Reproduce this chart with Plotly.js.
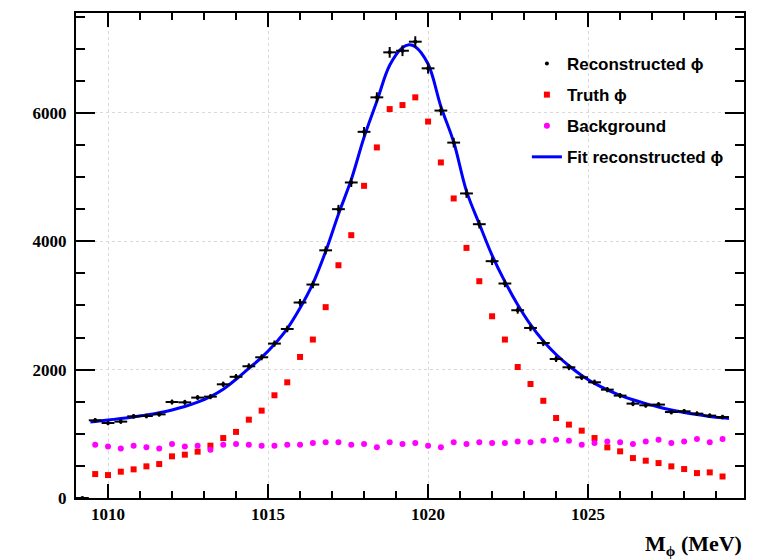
<!DOCTYPE html>
<html>
<head>
<meta charset="utf-8">
<script src="https://cdn.plot.ly/plotly-3.0.1.min.js"></script>
<style>html,body{margin:0;padding:0;background:#fff;}#chart{width:763px;height:560px;}</style>
</head>
<body>
<div id="chart"></div>
<script>
// Bin centres (MeV), 0.4 MeV bins
const massBins = [1009.6,1010.0,1010.4,1010.8,1011.2,1011.6,1012.0,1012.4,1012.8,1013.2,
  1013.6,1014.0,1014.4,1014.8,1015.2,1015.6,1016.0,1016.4,1016.8,1017.2,
  1017.6,1018.0,1018.4,1018.8,1019.2,1019.6,1020.0,1020.4,1020.8,1021.2,
  1021.6,1022.0,1022.4,1022.8,1023.2,1023.6,1024.0,1024.4,1024.8,1025.2,
  1025.6,1026.0,1026.4,1026.8,1027.2,1027.6,1028.0,1028.4,1028.8,1029.2];

// Empty bin at the low edge
const emptyBinX = [1009.2];
const emptyBinY = [0];

const reconstructed = [1210,1168,1190,1272,1277,1303,1495,1490,1564,1579,
  1771,1888,2052,2192,2405,2633,3045,3325,3858,4499,
  4915,5704,6241,6942,6967,7108,6693,6035,5536,4744,
  4265,3689,3341,2925,2649,2415,2165,2036,1880,1802,
  1688,1595,1470,1444,1455,1339,1350,1314,1283,1261];

const truth = [373,357,410,446,493,529,649,675,722,815,
  934,1030,1220,1361,1600,1802,2197,2468,2973,3626,
  4094,4863,5461,6058,6121,6241,5864,5227,4666,3896,
  3377,2831,2468,2041,1776,1514,1246,1143,1049,934,
  789,727,622,581,544,493,451,388,399,335];

const background = [831,804,773,815,789,773,840,804,815,753,
  831,840,831,815,815,831,831,856,867,867,
  831,840,789,867,840,856,815,789,867,840,
  867,856,856,882,867,893,909,893,831,856,
  882,867,840,882,909,856,882,918,867,918];

// Fit curve
const fitX = [1009.45,1009.6,1010.0,1010.4,1010.8,1011.2,1011.6,1012.0,1012.4,1012.8,1013.2,
  1013.6,1014.0,1014.4,1014.8,1015.2,1015.6,1016.0,1016.4,1016.8,1017.2,
  1017.6,1018.0,1018.4,1018.8,1019.2,1019.4,1019.6,1020.0,1020.4,1020.8,1021.2,
  1021.6,1022.0,1022.4,1022.8,1023.2,1023.6,1024.0,1024.4,1024.8,1025.2,
  1025.6,1026.0,1026.4,1026.8,1027.2,1027.6,1028.0,1028.4,1028.8,1029.2,1029.4];
const fitY = [1185,1193,1215,1238,1263,1292,1328,1372,1425,1492,1580,
  1695,1850,2020,2190,2395,2640,2960,3340,3840,4420,
  4960,5620,6180,6740,7015,7060,7030,6760,6100,5545,4780,
  4270,3780,3370,3010,2700,2445,2235,2060,1910,1785,
  1685,1600,1530,1470,1417,1372,1333,1300,1270,1248,1240];

const legendNames = ['Reconstructed \u03d5', 'Truth \u03d5', 'Background', 'Fit reconstructed \u03d5'];

const serif = 'Liberation Serif, Times New Roman, serif';
const sans = 'Liberation Sans, Arial, Helvetica, sans-serif';

const traces = [
  {
    x: fitX, y: fitY, type: 'scatter', mode: 'lines',
    name: legendNames[3], legendrank: 4, legendgroup: 'd',
    line: {color: '#0000ff', width: 3, shape: 'spline', smoothing: 1}
  },
  {
    x: massBins, y: truth, type: 'scatter', mode: 'markers',
    name: legendNames[1], legendrank: 2, legendgroup: 'b',
    marker: {color: '#ff0000', symbol: 'square', size: 6}
  },
  {
    x: massBins, y: background, type: 'scatter', mode: 'markers',
    name: legendNames[2], legendrank: 3, legendgroup: 'c',
    marker: {color: '#ff00ff', symbol: 'circle', size: 6}
  },
  {
    x: emptyBinX.concat(massBins), y: emptyBinY.concat(reconstructed), type: 'scatter', mode: 'markers',
    name: legendNames[0], legendrank: 1, legendgroup: 'a', cliponaxis: false,
    marker: {color: '#000000', size: 4},
    error_x: {type: 'constant', value: 0.2, thickness: 2, width: 0, color: '#000000'},
    error_y: {type: 'sqrt', thickness: 2, width: 0, color: '#000000'}
  }
];

const layout = {
  width: 763, height: 560,
  margin: {l: 76, r: 19, t: 13, b: 62},
  paper_bgcolor: '#ffffff', plot_bgcolor: '#ffffff',
  showlegend: true,
  legend: {
    x: 0.675, y: 0.932, xanchor: 'left', yanchor: 'top',
    bgcolor: 'rgba(255,255,255,0)', borderwidth: 0,
    traceorder: 'grouped', tracegroupgap: 6,
    font: {family: sans, size: 17, color: '#000000', weight: 'bold'}
  },
  xaxis: {
    range: [1009.0, 1029.87],
    tick0: 1010, dtick: 5,
    ticks: 'inside', ticklen: 14, tickwidth: 2, tickcolor: '#000000',
    showline: true, linewidth: 2, linecolor: '#000000', mirror: 'allticks',
    showgrid: true, gridcolor: '#d9d9d9', griddash: 'dot', gridwidth: 1,
    zeroline: false,
    tickfont: {family: serif, size: 17, color: '#000000', weight: 'bold'},
    minor: {dtick: 1, ticks: 'inside', ticklen: 7, tickwidth: 2, tickcolor: '#000000', showgrid: false}
  },
  yaxis: {
    range: [0, 7555],
    tick0: 0, dtick: 2000,
    ticks: 'inside', ticklen: 19, tickwidth: 2, tickcolor: '#000000',
    showline: true, linewidth: 2, linecolor: '#000000', mirror: 'allticks',
    showgrid: true, gridcolor: '#d9d9d9', griddash: 'dot', gridwidth: 1,
    zeroline: false, ticklabelstandoff: 4,
    tickfont: {family: serif, size: 17, color: '#000000', weight: 'bold'},
    minor: {dtick: 500, ticks: 'inside', ticklen: 9, tickwidth: 2, tickcolor: '#000000', showgrid: false}
  },
  annotations: [{
    text: 'M<sub>\u03d5</sub> (MeV)',
    xref: 'paper', yref: 'paper', x: 1.0, y: -0.064,
    xanchor: 'right', yanchor: 'top', showarrow: false,
    font: {family: serif, size: 22, color: '#000000', weight: 'bold'}
  }]
};

Plotly.newPlot('chart', traces, layout, {displayModeBar: false, staticPlot: true});
</script>
</body>
</html>
